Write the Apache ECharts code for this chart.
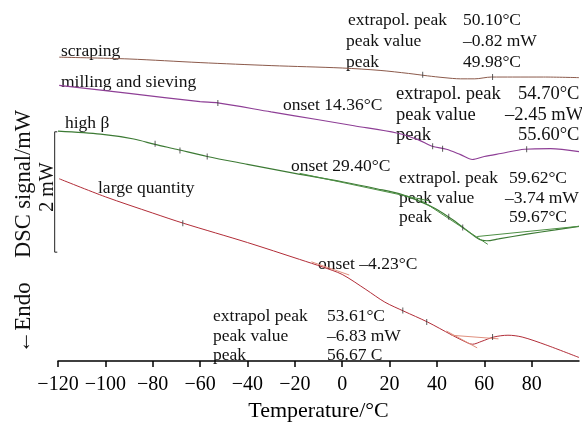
<!DOCTYPE html>
<html><head><meta charset="utf-8">
<script src="https://cdn.jsdelivr.net/npm/echarts@6/dist/echarts.min.js"></script>
<style>html,body{margin:0;padding:0;background:#fff}#c{width:582px;height:427px}</style>
</head><body><div id="c"></div>
<script>
// x axis (temperature, °C)
const tempMin = -120, tempMax = 100, tempStep = 20;
// y axis in mW (arbitrary offset; curves are vertically shifted as in the original)
const sigMin = 0, sigMax = 6;

const scrapingT = [-119.5,-90,-60,-30,0,16,28,36,43,50,56,63,72,85,100];
const scrapingY = [5.05,5.02,4.96,4.91,4.87,4.83,4.78,4.74,4.71,4.69,4.69,4.72,4.72,4.72,4.71];

const millingT = [-119.5,-90,-60,-52.5,-30,-10,5,23,32,38,44,50,55,60,67,77,88,100];
const millingY = [4.58,4.45,4.31,4.29,4.14,4.01,3.91,3.79,3.68,3.57,3.52,3.43,3.35,3.40,3.45,3.52,3.53,3.48];

const highBetaT = [-120,-102,-88,-79,-70,-57,-40,-20,0,15,25,33,40,47,53,58,61,66,78,90,100];
const highBetaY = [3.82,3.77,3.69,3.60,3.52,3.40,3.27,3.12,2.98,2.86,2.77,2.65,2.52,2.34,2.16,2.02,2.00,2.03,2.11,2.18,2.24];

const largeT = [-119.5,-100,-80,-67,-40,-18,-8,0,10,18,26,36,46,51,55,59,64,70,76,86,100];
const largeY = [3.03,2.73,2.46,2.29,1.97,1.69,1.56,1.44,1.19,0.98,0.83,0.65,0.44,0.34,0.28,0.33,0.40,0.43,0.40,0.27,0.06];

// evaluation construction lines (tangents / baselines)
const betaTan1T = [-18,37], betaTan1Y = [3.12,2.66];
const betaTan2T = [33,61.5], betaTan2Y = [2.68,1.94];
const betaBaseT = [57,100], betaBaseY = [2.07,2.24];
const largeTan1T = [-13,3], largeTan1Y = [1.65,1.43];
const largeTan2T = [44,57], largeTan2Y = [0.50,0.22];
const largeBaseT = [46,66], largeBaseY = [0.43,0.37];

// small evaluation tick marks on the curves
const scrapingMarkT = [34,63.5], scrapingMarkY = [4.76,4.72];
const millingMarkT = [-52.5,38.2,42.4,77.9], millingMarkY = [4.29,3.57,3.53,3.52];
const betaMarkT = [-79,-68.5,-57,45,50.9], betaMarkY = [3.61,3.50,3.40,2.40,2.22];
const largeMarkT = [-67.3,25.6,35.7,63.5], largeMarkY = [2.29,0.84,0.65,0.40];

// 2 mW scale bar (bracket)
const scaleBarT = [-120.3,-121.4,-121.4,-120.3];
const scaleBarY = [3.81,3.81,1.81,1.81];

const zip = (a,b) => a.map((v,i)=>[v,b[i]]);
const serif = '"Liberation Serif","Times New Roman",serif';

function curve(name, T, Y, color, width, smooth) {
  return {name, type:'line', data: zip(T,Y), showSymbol:false, smooth: smooth,
    lineStyle:{color, width}, itemStyle:{color}, silent:true, z:3};
}
function marks(T, Y) {
  return {type:'scatter', data: zip(T,Y), symbol:'rect', symbolSize:[1,6],
    itemStyle:{color:'#333'}, silent:true, z:4};
}
function t(x, cy, s, size) {
  size = size || 17.5;
  return {type:'text', x:x, y:cy, style:{text:s, font: size+'px '+serif, fill:'#111', verticalAlign:'middle', align:'left'}};
}

const chart = echarts.init(document.getElementById('c'), null, {renderer:'canvas'});
const graphics = [
    t(61, 51, 'scraping'),
    t(61, 82, 'milling and sieving'),
    t(65, 123, 'high β'),
    t(98, 188, 'large quantity'),
    t(348, 20, 'extrapol. peak'), t(463, 20, '50.10°C'),
    t(346, 41, 'peak value'), t(463, 41, '–0.82 mW'),
    t(346, 62, 'peak'), t(463, 62, '49.98°C'),
    t(283, 105, 'onset 14.36°C'),
    t(396, 94, 'extrapol. peak', 18.5), t(518, 94, '54.70°C', 18.5),
    t(396, 115, 'peak value', 18.5), t(505, 115, '–2.45 mW', 18.5),
    t(396, 135, 'peak', 18.5), t(518, 135, '55.60°C', 18.5),
    t(291, 166, 'onset 29.40°C'),
    t(399, 178, 'extrapol. peak'), t(509, 178, '59.62°C'),
    t(399, 198, 'peak value'), t(505, 198, '–3.74 mW'),
    t(399, 217, 'peak'), t(509, 217, '59.67°C'),
    t(318, 264, 'onset –4.23°C'),
    t(213, 316, 'extrapol peak'), t(327, 316, '53.61°C'),
    t(213, 336, 'peak value'), t(327, 336, '–6.83 mW'),
    t(213, 355, 'peak'), t(327, 355, '56.67 C'),
    {type:'text', x:24, y:184, rotation:Math.PI/2,
     style:{text:'DSC signal/mW', font:'22.5px '+serif, fill:'#111', align:'center', verticalAlign:'middle'}},
    {type:'text', x:48, y:187, rotation:Math.PI/2,
     style:{text:'2 mW', font:'20px '+serif, fill:'#111', align:'center', verticalAlign:'middle'}},
    {type:'text', x:24, y:318, rotation:Math.PI/2,
     style:{text:'←Endo', font:'23px '+serif, fill:'#111', align:'center', verticalAlign:'middle'}}
];
chart.setOption({
  animation:false,
  backgroundColor:'#fff',
  grid:{left:58, right:3, top:0, bottom:55},
  xAxis:{type:'value', min:tempMin, max:tempMax, interval:tempStep,
    axisLine:{lineStyle:{color:'#000', width:1.5}},
    axisTick:{lineStyle:{color:'#000', width:1.5}, length:6},
    splitLine:{show:false},
    axisLabel:{color:'#000', fontFamily:serif, fontSize:20, margin:14, showMaxLabel:false,
      formatter: v => v < 0 ? '\u2212' + Math.abs(v) : String(v)},
    name:'Temperature/°C', nameLocation:'middle', nameGap:34,
    nameTextStyle:{color:'#000', fontFamily:serif, fontSize:22}},
  yAxis:{type:'value', min:sigMin, max:sigMax, show:false},
  series:[
    curve('scraping', scrapingT, scrapingY, '#8c5a4b', 1, 0.3),
    curve('milling and sieving', millingT, millingY, '#8e3f96', 1.2, 0.3),
    curve('high β', highBetaT, highBetaY, '#3c7a34', 1.2, 0.3),
    curve('large quantity', largeT, largeY, '#b22d38', 1, 0.3),
    curve('', betaTan1T, betaTan1Y, '#4d8f44', 1, false),
    curve('', betaTan2T, betaTan2Y, '#4d8f44', 1, false),
    curve('', betaBaseT, betaBaseY, '#4d8f44', 1, false),
    curve('', largeTan1T, largeTan1Y, '#e0907e', 1, false),
    curve('', largeTan2T, largeTan2Y, '#e0907e', 1, false),
    curve('', largeBaseT, largeBaseY, '#e0907e', 1, false),
    marks(scrapingMarkT, scrapingMarkY),
    marks(millingMarkT, millingMarkY),
    marks(betaMarkT, betaMarkY),
    marks(largeMarkT, largeMarkY)
  ],
  graphic: graphics
});
// scale bar drawn through the chart's own scales
const barPts = zip(scaleBarT, scaleBarY).map(p => chart.convertToPixel({gridIndex:0}, p));
graphics.push({type:'polyline', shape:{points: barPts}, style:{stroke:'#222', lineWidth:1, fill:null}});
chart.setOption({graphic: graphics}, {replaceMerge:['graphic']});
</script>
</body></html>
